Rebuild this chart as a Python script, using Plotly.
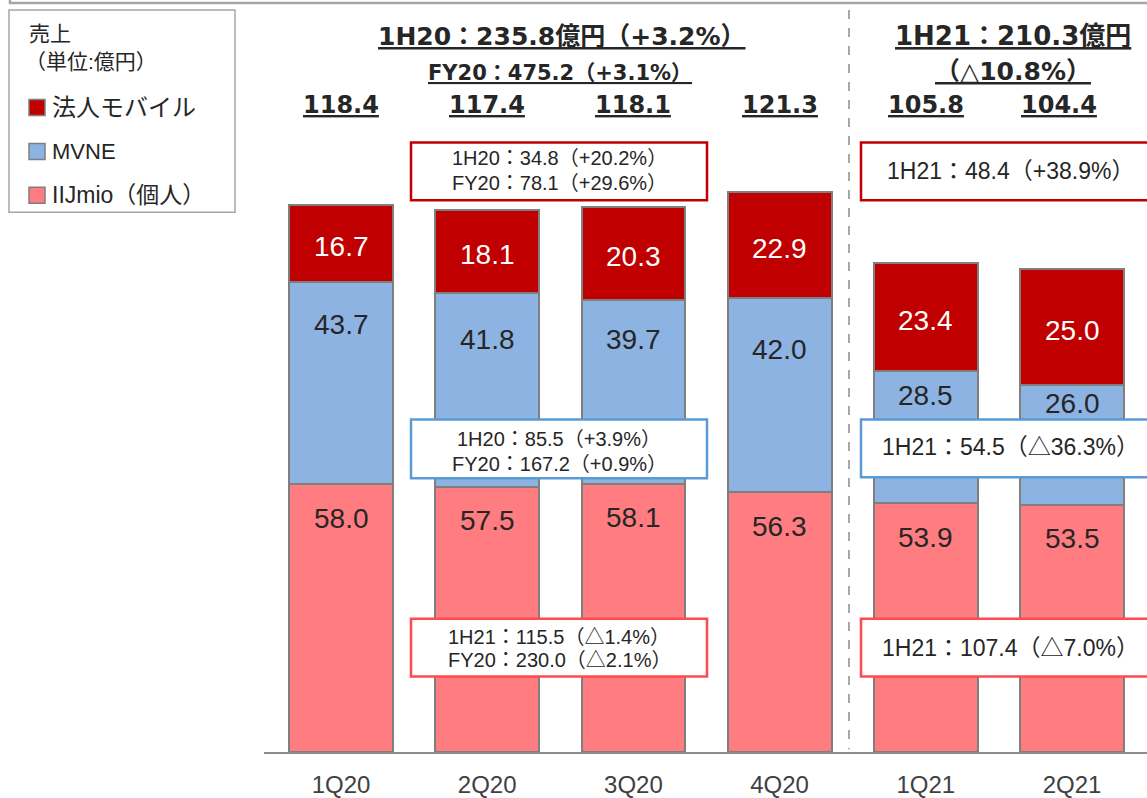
import plotly.graph_objects as go

W, H = 1147, 798
HE = 788  # effective vertical extent used for paper-coordinate mapping

# ---------------- data ----------------
quarters = ["1Q20", "2Q20", "3Q20", "4Q20", "1Q21", "2Q21"]
iijmio = [58.0, 57.5, 58.1, 56.3, 53.9, 53.5]      # IIJmio（個人）
mvne = [43.7, 41.8, 39.7, 42.0, 28.5, 26.0]        # MVNE
corp = [16.7, 18.1, 20.3, 22.9, 23.4, 25.0]        # 法人モバイル
totals = ["118.4", "117.4", "118.1", "121.3", "105.8", "104.4"]

series_names = ["IIJmio（個人）", "MVNE", "法人モバイル"]
legend_title = ["売上", "（単位:億円）"]

header_1h20 = "1H20：235.8億円（+3.2%）"
header_fy20 = "FY20：475.2（+3.1%）"
header_1h21_a = "1H21：210.3億円"
header_1h21_b = "（△10.8%）"

box_corp_20 = ["1H20：34.8（+20.2%）", "FY20：78.1（+29.6%）"]
box_mvne_20 = ["1H20：85.5（+3.9%）", "FY20：167.2（+0.9%）"]
box_iij_20 = ["1H21：115.5（△1.4%）", "FY20：230.0（△2.1%）"]
box_corp_21 = "1H21：48.4（+38.9%）"
box_mvne_21 = "1H21：54.5（△36.3%）"
box_iij_21 = "1H21：107.4（△7.0%）"

# ---------------- styles ----------------
C_RED = "#c00000"
C_BLUE = "#8db3e2"
C_PINK = "#ff7c80"
C_EDGE = "#7f7f7f"
C_TXT = "#262626"
BOX_RED = "#c00000"
BOX_BLUE = "#5b9bd5"
BOX_PINK = "#ff4a4f"
FONT = "Liberation Sans, Arial, Noto Sans CJK JP"
BFONT = "DejaVu Sans, Noto Sans CJK JP"

PX_PER_UNIT = 4.637
BASE_PX = 755
blue_label_off = [42, 46, 39, 51, 24, 19]   # px below segment top
pink_label_off = 34
total_xshift = [0, 0, 0, 0, 0, -13]


def px(x):
    return x / W


def py(y):
    return 1 - y / HE


xs = list(range(len(quarters)))
fig = go.Figure()
for vals, col, name in [(iijmio, C_PINK, series_names[0]),
                        (mvne, C_BLUE, series_names[1]),
                        (corp, C_RED, series_names[2])]:
    fig.add_trace(go.Bar(x=xs, y=vals, name=name, width=0.71,
                         marker=dict(color=col, line=dict(color=C_EDGE, width=2)),
                         hoverinfo="skip", showlegend=False))

ann = []
shapes = []


def txt(x, y, text, size, color=C_TXT, family=FONT, xanchor="center", **kw):
    d = dict(x=x, y=y, text=text, showarrow=False, xanchor=xanchor, yanchor="middle",
             font=dict(family=family, size=size, color=color))
    d.update(kw)
    ann.append(d)


# segment labels
for i in xs:
    p_top = iijmio[i]
    b_top = iijmio[i] + mvne[i]
    r_mid = b_top + corp[i] / 2
    txt(i, p_top, f"{iijmio[i]:.1f}", 28, xref="x", yref="y", yshift=-pink_label_off)
    txt(i, b_top, f"{mvne[i]:.1f}", 28, xref="x", yref="y", yshift=-blue_label_off[i])
    txt(i, r_mid, f"{corp[i]:.1f}", 28, color="white", xref="x", yref="y", yshift=-3)
    txt(i, py(105), f"<b><u>{totals[i]}</u></b>", 24, family=BFONT,
        xref="x", yref="paper", xshift=total_xshift[i])

# headers
txt(px(561), py(37), f"<b><u>{header_1h20}</u></b>", 25, family=BFONT, xref="paper", yref="paper")
txt(px(560), py(73), f"<b><u>{header_fy20}</u></b>", 21, family=BFONT, xref="paper", yref="paper")
txt(px(1013), py(36), f"<b><u>{header_1h21_a}</u></b>", 26, family=BFONT, xref="paper", yref="paper")
txt(px(1013), py(72), f"<b><u>{header_1h21_b}</u></b>", 25, family=BFONT, xref="paper", yref="paper")


# growth boxes
def box(x0, y0, x1, y1, col, lines, cx, cys, size):
    shapes.append(dict(type="rect", xref="paper", yref="paper",
                       x0=px(x0), x1=px(x1), y0=py(y0), y1=py(y1),
                       fillcolor="white", line=dict(color=col, width=2.5),
                       layer="above"))
    for t, cy in zip(lines, cys):
        txt(px(cx), py(cy), t, size, xref="paper", yref="paper")


box(411, 143, 707, 201, BOX_RED, box_corp_20, 559, [159, 184], 20)
box(411, 421, 707, 480, BOX_BLUE, box_mvne_20, 559, [441, 466], 20)
box(411, 621, 707, 679, BOX_PINK, box_iij_20, 559, [639, 663], 20)
box(861, 143, 1152, 201, BOX_RED, [box_corp_21], 1010, [172], 23)
box(861, 421, 1152, 479, BOX_BLUE, [box_mvne_21], 1010, [449], 23)
box(861, 621, 1152, 679, BOX_PINK, [box_iij_21], 1010, [650], 23)

# dashed separator
shapes.append(dict(type="line", xref="paper", yref="paper",
                   x0=px(849), x1=px(849), y0=py(10), y1=py(752),
                   line=dict(color="#8c8c8c", width=1.5, dash="dash")))

# top frame line
shapes.append(dict(type="rect", xref="paper", yref="paper",
                   x0=px(10), x1=px(1160), y0=py(3), y1=py(-20),
                   line=dict(color="#a6a6a6", width=2.5), fillcolor="rgba(0,0,0,0)"))

# legend panel
shapes.append(dict(type="rect", xref="paper", yref="paper",
                   x0=px(9), x1=px(235), y0=py(10), y1=py(213),
                   line=dict(color="#a6a6a6", width=1.5), fillcolor="white"))
txt(px(27), py(34), legend_title[0], 21, xanchor="left", xref="paper", yref="paper")
txt(px(23), py(62), legend_title[1], 21, xanchor="left", xref="paper", yref="paper")
for name, col, cy, fs in [(series_names[2], C_RED, 108, 24),
                          (series_names[1], C_BLUE, 152, 22),
                          (series_names[0], C_PINK, 196, 23)]:
    shapes.append(dict(type="rect", xref="paper", yref="paper",
                       x0=px(29), x1=px(45), y0=py(cy - 8), y1=py(cy + 8),
                       fillcolor=col, line=dict(color=C_EDGE, width=1.5)))
    txt(px(50), py(cy), name, fs, xanchor="left", xref="paper", yref="paper")

r0 = -(341 - 264) / 146.2
ybot = (HE - BASE_PX) / HE
fig.update_layout(
    width=W, height=H,
    margin=dict(l=0, r=0, t=0, b=0),
    paper_bgcolor="white", plot_bgcolor="white",
    barmode="stack", bargap=0.29,
    showlegend=False,
    xaxis=dict(domain=[264 / W, 1], range=[r0, r0 + (W - 264) / 146.2],
               tickvals=xs, ticktext=quarters, showline=True, linecolor="#8c8c8c",
               linewidth=2, ticks="outside", ticklen=10, tickcolor="rgba(0,0,0,0)",
               tickfont=dict(family=FONT, size=24, color="#404040"),
               showgrid=False, zeroline=False, fixedrange=True),
    yaxis=dict(domain=[ybot, 1], range=[0, BASE_PX / PX_PER_UNIT],
               visible=False, fixedrange=True),
    annotations=ann, shapes=shapes,
)

fig.write_html("out.html")
